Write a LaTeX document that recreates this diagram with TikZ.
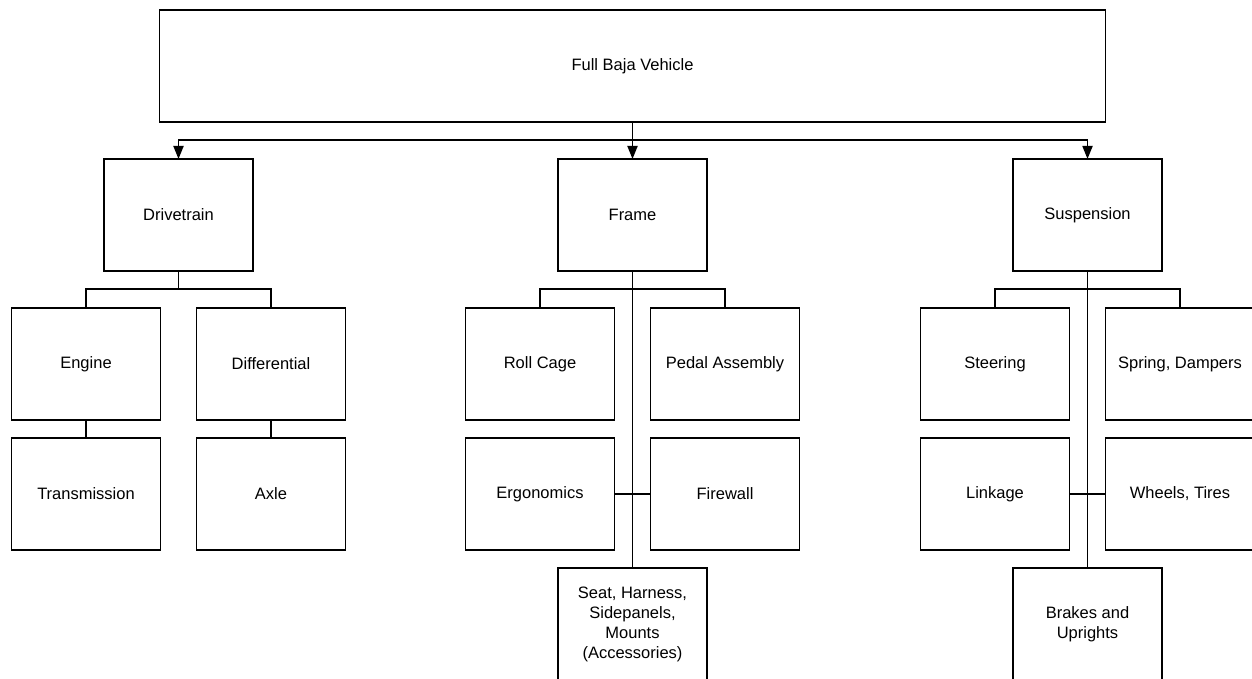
\documentclass[tikz,border=0pt]{standalone}
\usepackage{fontspec}
\setmainfont{Liberation Sans}
\usepackage{tikz}
\usetikzlibrary{arrows.meta, positioning}
\newcommand{\boxfont}{\fontsize{16.5}{20}\selectfont}
\tikzset{
  % Tree styles
  part/.style={rectangle, minimum width=149pt, minimum height=112pt, inner sep=2pt, outer sep=0pt, align=center, draw=black, line width=1.8pt, fill=white, font=\boxfont},
  topbox/.style={part, minimum width=946pt},
  arrow/.style={-{Triangle[length=13pt, width=10pt]}, line width=1.8pt},
  link/.style={line width=1.8pt},
}
\begin{document}
\begin{tikzpicture}[x=1pt, y=-1pt]
    \useasboundingbox (0,0) rectangle (1252,679);

    % Top
    \node[topbox] (full) at (632.5,66) {Full Baja Vehicle};

    % Subsystems
    \node[part, below=37pt of full] (frame) {Frame};
    \node[part, left=305pt of frame] (drive) {Drivetrain};
    \node[part, right=306pt of frame] (susp) {Suspension};

    % Drivetrain parts
    \node[part, below=37pt of drive, xshift=-92.5pt] (engine) {Engine};
    \node[part, below=37pt of drive, xshift=92.5pt] (diff) {Differential};
    \node[part, below=18pt of engine] (trans) {Transmission};
    \node[part, below=18pt of diff] (axle) {Axle};

    % Frame parts
    \node[part, below=37pt of frame, xshift=-92.5pt] (cage) {Roll Cage};
    \node[part, below=37pt of frame, xshift=92.5pt] (pedal) {Pedal Assembly};
    \node[part, below=18pt of cage] (ergo) {Ergonomics};
    \node[part, below=18pt of pedal] (fire) {Firewall};
    \node[part, below=18pt of ergo, xshift=92.5pt] (seat) {Seat, Harness,\\Sidepanels,\\Mounts\\(Accessories)};

    % Suspension parts
    \node[part, below=37pt of susp, xshift=-92.5pt] (steer) {Steering};
    \node[part, below=37pt of susp, xshift=92.5pt] (spring) {Spring, Dampers};
    \node[part, below=18pt of steer] (linkage) {Linkage};
    \node[part, below=18pt of spring] (wheels) {Wheels, Tires};
    \node[part, below=18pt of linkage, xshift=92.5pt] (brakes) {Brakes and\\Uprights};

    % === Arrows ===
    \draw[arrow] (full.south) -- ++(0,18) -| (drive.north);
    \draw[arrow] (full.south) -- (frame.north);
    \draw[arrow] (full.south) -- ++(0,18) -| (susp.north);

    % Drivetrain
    \draw[link] (drive.south) -- ++(0,18) -| (engine.north);
    \draw[link] (drive.south) -- ++(0,18) -| (diff.north);
    \draw[link] (engine) -- (trans);
    \draw[link] (diff) -- (axle);

    % Frame
    \draw[link] (frame.south) -- ++(0,18) -| (cage.north);
    \draw[link] (frame.south) -- ++(0,18) -| (pedal.north);
    \draw[link] (frame.south) -- (seat.north);
    \draw[link] (ergo.east) -- (fire.west);

    % Suspension
    \draw[link] (susp.south) -- ++(0,18) -| (steer.north);
    \draw[link] (susp.south) -- ++(0,18) -| (spring.north);
    \draw[link] (susp.south) -- (brakes.north);
    \draw[link] (linkage.east) -- (wheels.west);
\end{tikzpicture}
\end{document}
